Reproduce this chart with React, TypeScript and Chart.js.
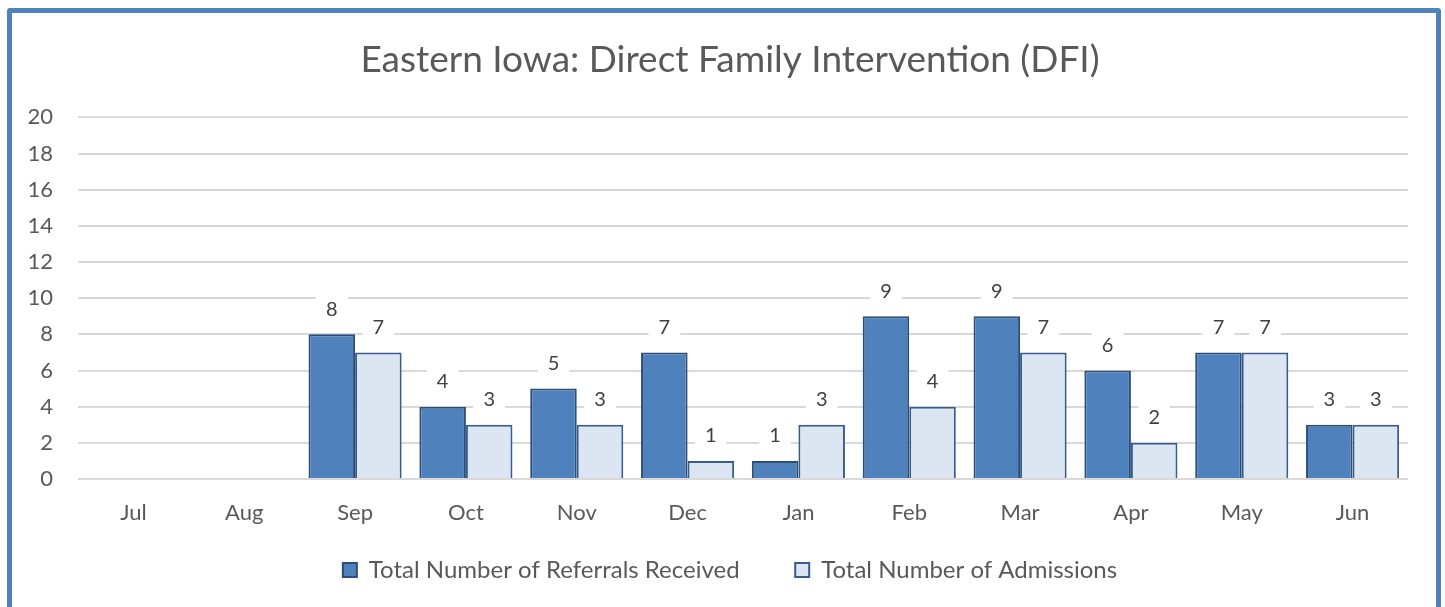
import React, { useEffect, useRef } from 'react';
import { Chart, registerables } from 'chart.js';

Chart.register(...registerables);

const TITLE = 'Eastern Iowa: Direct Family Intervention (DFI)';
const categories = ['Jul', 'Aug', 'Sep', 'Oct', 'Nov', 'Dec', 'Jan', 'Feb', 'Mar', 'Apr', 'May', 'Jun'];
const referrals: (number | null)[] = [null, null, 8, 4, 5, 7, 1, 9, 9, 6, 7, 3];
const admissions: (number | null)[] = [null, null, 7, 3, 3, 1, 3, 4, 7, 2, 7, 3];
const seriesNames = ['Total Number of Referrals Received', 'Total Number of Admissions'];
const yTicks = { min: 0, max: 20, step: 2 };

const FONT = 'Lato, "Open Sans", sans-serif';
const LABEL_OFFSET = 25;
const LABEL_SIZE = 20;

const labelPlugin = {
  id: 'valueLabels',
  beforeDatasetsDraw(chart: any) {
    const ctx = chart.ctx;
    ctx.save();
    ctx.font = `${LABEL_SIZE}px ${FONT}`;
    chart.data.datasets.forEach((ds: any, i: number) => {
      const meta = chart.getDatasetMeta(i);
      meta.data.forEach((bar: any, j: number) => {
        const v = ds.data[j];
        if (v == null) return;
        const w = ctx.measureText(String(v)).width + 20;
        ctx.fillStyle = '#ffffff';
        ctx.fillRect(bar.x - w / 2, bar.y - LABEL_OFFSET - 13, w, 26);
      });
    });
    ctx.restore();
  },
  afterDatasetsDraw(chart: any) {
    const ctx = chart.ctx;
    ctx.save();
    ctx.font = `${LABEL_SIZE}px ${FONT}`;
    ctx.textAlign = 'center';
    ctx.textBaseline = 'middle';
    ctx.fillStyle = '#404040';
    chart.data.datasets.forEach((ds: any, i: number) => {
      const meta = chart.getDatasetMeta(i);
      meta.data.forEach((bar: any, j: number) => {
        const v = ds.data[j];
        if (v == null) return;
        ctx.fillText(String(v), bar.x, bar.y - LABEL_OFFSET);
      });
    });
    ctx.restore();
  },
};

export default function App() {
  const canvasRef = useRef<HTMLCanvasElement | null>(null);

  useEffect(() => {
    document.body.style.margin = '0';
    const canvas = canvasRef.current;
    if (!canvas) return;
    const chart = new Chart(canvas, {
      type: 'bar',
      data: {
        labels: categories,
        datasets: [
          {
            label: seriesNames[0],
            data: referrals,
            backgroundColor: '#4f81bd',
            borderColor: '#2c4d75',
            borderWidth: 2,
            categoryPercentage: 0.84,
            barPercentage: 1,
            yAxisID: 'y',
          },
          {
            label: seriesNames[1],
            data: admissions,
            backgroundColor: '#dce6f2',
            borderColor: '#385d8a',
            borderWidth: 2,
            categoryPercentage: 0.84,
            barPercentage: 1,
            yAxisID: 'y',
          },
        ],
      },
      options: {
        animation: false,
        responsive: false,
        maintainAspectRatio: false,
        layout: { padding: { left: 27, right: 12, top: 0, bottom: 15 } },
        plugins: {
          title: {
            display: true,
            text: TITLE,
            color: '#595959',
            font: { family: FONT, size: 37, weight: 'normal' },
            padding: { top: 38, bottom: 35 },
          },
          legend: {
            position: 'bottom',
            labels: {
              color: '#595959',
              font: { family: FONT, size: 24 },
              boxWidth: 14,
              boxHeight: 14,
              padding: 31,
              generateLabels: (c: any) => {
                const items = (Chart.defaults.plugins.legend.labels as any).generateLabels(c);
                if (items[0]) items[0].text = items[0].text + '    ';
                return items;
              },
            },
          },
          tooltip: { enabled: false },
        },
        scales: {
          x: {
            grid: { display: false, drawTicks: false },
            border: { display: false },
            ticks: { color: '#595959', font: { family: FONT, size: 22 }, padding: 21 },
            afterFit: (s: any) => {
              s.height = 48;
            },
          },
          y: {
            min: yTicks.min,
            max: yTicks.max,
            ticks: { stepSize: yTicks.step, color: '#595959', font: { family: FONT, size: 22 }, padding: 25 },
            grid: { color: '#d9d9d9', lineWidth: 2, drawTicks: false },
            border: { display: false },
            afterFit: (s: any) => {
              s.width = 51;
            },
          },
          yRight: {
            type: 'linear',
            position: 'right',
            min: 0,
            max: 1,
            grid: { display: false, drawTicks: false },
            ticks: { display: false },
            border: { display: false },
            afterFit: (s: any) => {
              s.width = 25;
            },
          },
        },
      },
      plugins: [labelPlugin],
    });
    return () => chart.destroy();
  }, []);

  return (
    <div style={{ position: 'relative', width: 1445, height: 607, overflow: 'hidden', background: '#fff' }}>
      <canvas ref={canvasRef} width={1445} height={607} style={{ position: 'absolute', left: 0, top: 0 }} />
      <div
        style={{
          position: 'absolute',
          left: 7,
          top: 8,
          width: 1434,
          height: 700,
          border: '5px solid #4f81bd',
          borderRadius: 3,
          boxSizing: 'border-box',
          pointerEvents: 'none',
        }}
      />
    </div>
  );
}
